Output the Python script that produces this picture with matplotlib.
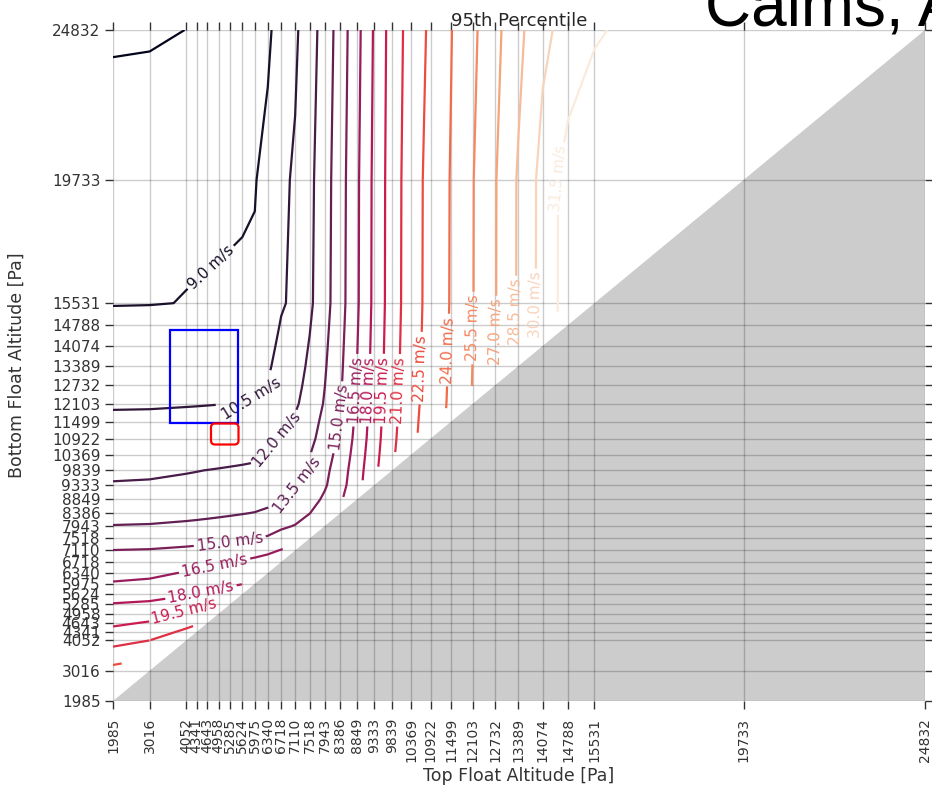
import numpy as np
import matplotlib
matplotlib.use("Agg")
import matplotlib.pyplot as plt
import seaborn as sns
from matplotlib.patches import Polygon, Rectangle, FancyBboxPatch
from matplotlib.transforms import IdentityTransform

plt.rcParams['font.family'] = ['DejaVu Sans']

# pressure levels (Pa) used for both axes / tick labels
levels_pa = [1985, 3016, 4052, 4341, 4643, 4958, 5285, 5624, 5975, 6340, 6718,
             7110, 7518, 7943, 8386, 8849, 9333, 9839, 10369, 10922, 11499,
             12103, 12732, 13389, 14074, 14788, 15531, 19733, 24832]

# speed profile vs bottom float altitude (read along the left edge), m/s
speed_by_bottom = [24.0, 22.97, 20.48, 19.8, 19.3, 18.8, 18.06, 17.3, 16.58,
                   16.2, 15.7, 15.03, 14.2, 13.54, 13.0, 12.5, 12.05, 11.85,
                   11.5, 11.1, 10.78, 10.35, 10.1, 9.85, 9.6, 9.3, 8.95, 8.8, 7.2]

# speed profile vs top float altitude, m/s
speed_by_top = [2.0, 2.5, 3.4, 3.5, 3.6, 3.7, 3.8, 3.9, 4.2, 6.0, 8.3,
                9.07, 10.49, 12.08, 13.83, 15.86, 18.04, 20.06, 21.61, 22.85,
                23.96, 25.32, 26.80, 28.57, 30.44, 32.1, 32.3, 33.0, 33.0]

# same, along the uppermost row (bottom float at 24832 Pa)
speed_by_top_upper = [2.0, 3.3, 4.7, 5.0, 5.4, 5.8, 6.2, 6.6, 7.1, 7.6, 8.51,
                      9.57, 10.83, 12.28, 13.95, 15.87, 18.03, 20.09, 21.53,
                      22.71, 23.90, 25.15, 26.53, 28.08, 29.64, 30.48, 31.35,
                      32.8, 33.0]

contour_levels = [7.5, 9.0, 10.5, 12.0, 13.5, 15.0, 16.5, 18.0, 19.5, 21.0,
                  22.5, 24.0, 25.5, 27.0, 28.5, 30.0, 31.5]

# label anchor points (data coords) for contour labels
label_points = [(4939, 16490), (5840, 12472), (6600, 10872), (7247, 9237),
                (8260, 11655), (5277, 7365), (8654, 12574), (9020, 12574),
                (9413, 12574), (9723, 12574), (4911, 6207), (4489, 5526),
                (4011, 4879), (10514, 13323), (11383, 13935), (12115, 14685),
                (12706, 14549), (13211, 15230), (13775, 15468), (14450, 19792)]

# ---- build field on the level grid ----
X = np.array(levels_pa, float)
Y = np.array(levels_pa, float)
XX, YY = np.meshgrid(X, Y)
A = np.tile(np.array(speed_by_top, float), (len(Y), 1))
A[-1, :] = speed_by_top_upper
with np.errstate(divide='ignore', invalid='ignore'):
    r = (XX - X[0]) / (YY - X[0])
    r = np.nan_to_num(r, nan=0.0, posinf=0.0)
B = np.array(speed_by_bottom, float)[:, None] * (1 + 0.1 * r ** 2)
Z = (A ** 4 + B ** 4) ** 0.25
Zm = np.ma.masked_where(YY <= XX, Z)

# ---- figure ----
W, H = 932, 790
fig = plt.figure(figsize=(W / 100, H / 100), dpi=100)
ax = fig.add_axes([113 / W, (H - 701) / H, 812 / W, 671 / H])

lo, hi = levels_pa[0], levels_pa[-1]
ax.add_patch(Polygon([(lo, lo), (hi, hi), (hi, lo)], closed=True,
                     facecolor='#cccccc', edgecolor='none', zorder=1))

cmap = sns.color_palette("rocket", as_cmap=True)
cs = ax.contour(X, Y, Zm, levels=contour_levels, cmap=cmap,
                linewidths=1.6, zorder=3)
ax.clabel(cs, fmt='%.1f m/s', fontsize=11, inline=True,
          inline_spacing=3, manual=label_points)

ax.set_xlim(lo, hi)
ax.set_ylim(lo, hi)
ax.set_xticks(levels_pa)
ax.set_xticklabels([str(v) for v in levels_pa], rotation=90, fontsize=10,
                   color='#333333')
ax.set_yticks(levels_pa)
ax.set_yticklabels([str(v) for v in levels_pa], fontsize=11, color='#333333')
ax.tick_params(axis='both', which='both', direction='out', length=6, width=1,
               color='#333333', top=True, right=True, labeltop=False,
               labelright=False)
ax.tick_params(axis='x', pad=6)
ax.tick_params(axis='y', pad=3)
ax.grid(True, color='k', alpha=0.2, lw=1.0)
ax.set_axisbelow(False)
for s in ax.spines.values():
    s.set_visible(False)

ax.set_title('95th Percentile', fontsize=13, pad=2, color='#262626')
ax.set_xlabel('Top Float Altitude [Pa]', fontsize=12.5, color='#333333')
ax.set_ylabel('Bottom Float Altitude [Pa]', fontsize=12.5, color='#333333')
ax.xaxis.set_label_coords(0.5, -0.098)
ax.yaxis.set_label_coords(-0.107, 0.5)

# slide title (cut off at the right edge)
fig.text(705 / W, 1 - 26 / H, 'Calms, A', fontsize=46,
         family=['Liberation Sans', 'DejaVu Sans'], ha='left', va='baseline',
         color='black')

# annotation boxes
fig.patches.append(Rectangle((170, H - 423), 68, 93, fill=False,
                             edgecolor='#0000ff', lw=1.6,
                             transform=IdentityTransform(), figure=fig))
fig.patches.append(FancyBboxPatch((211, H - 444.5), 27.5, 21,
                                  boxstyle='round,pad=0,rounding_size=4',
                                  fill=False, edgecolor='#ff0000', lw=1.6,
                                  transform=IdentityTransform(), figure=fig))

fig.savefig('out.png', dpi=100)
